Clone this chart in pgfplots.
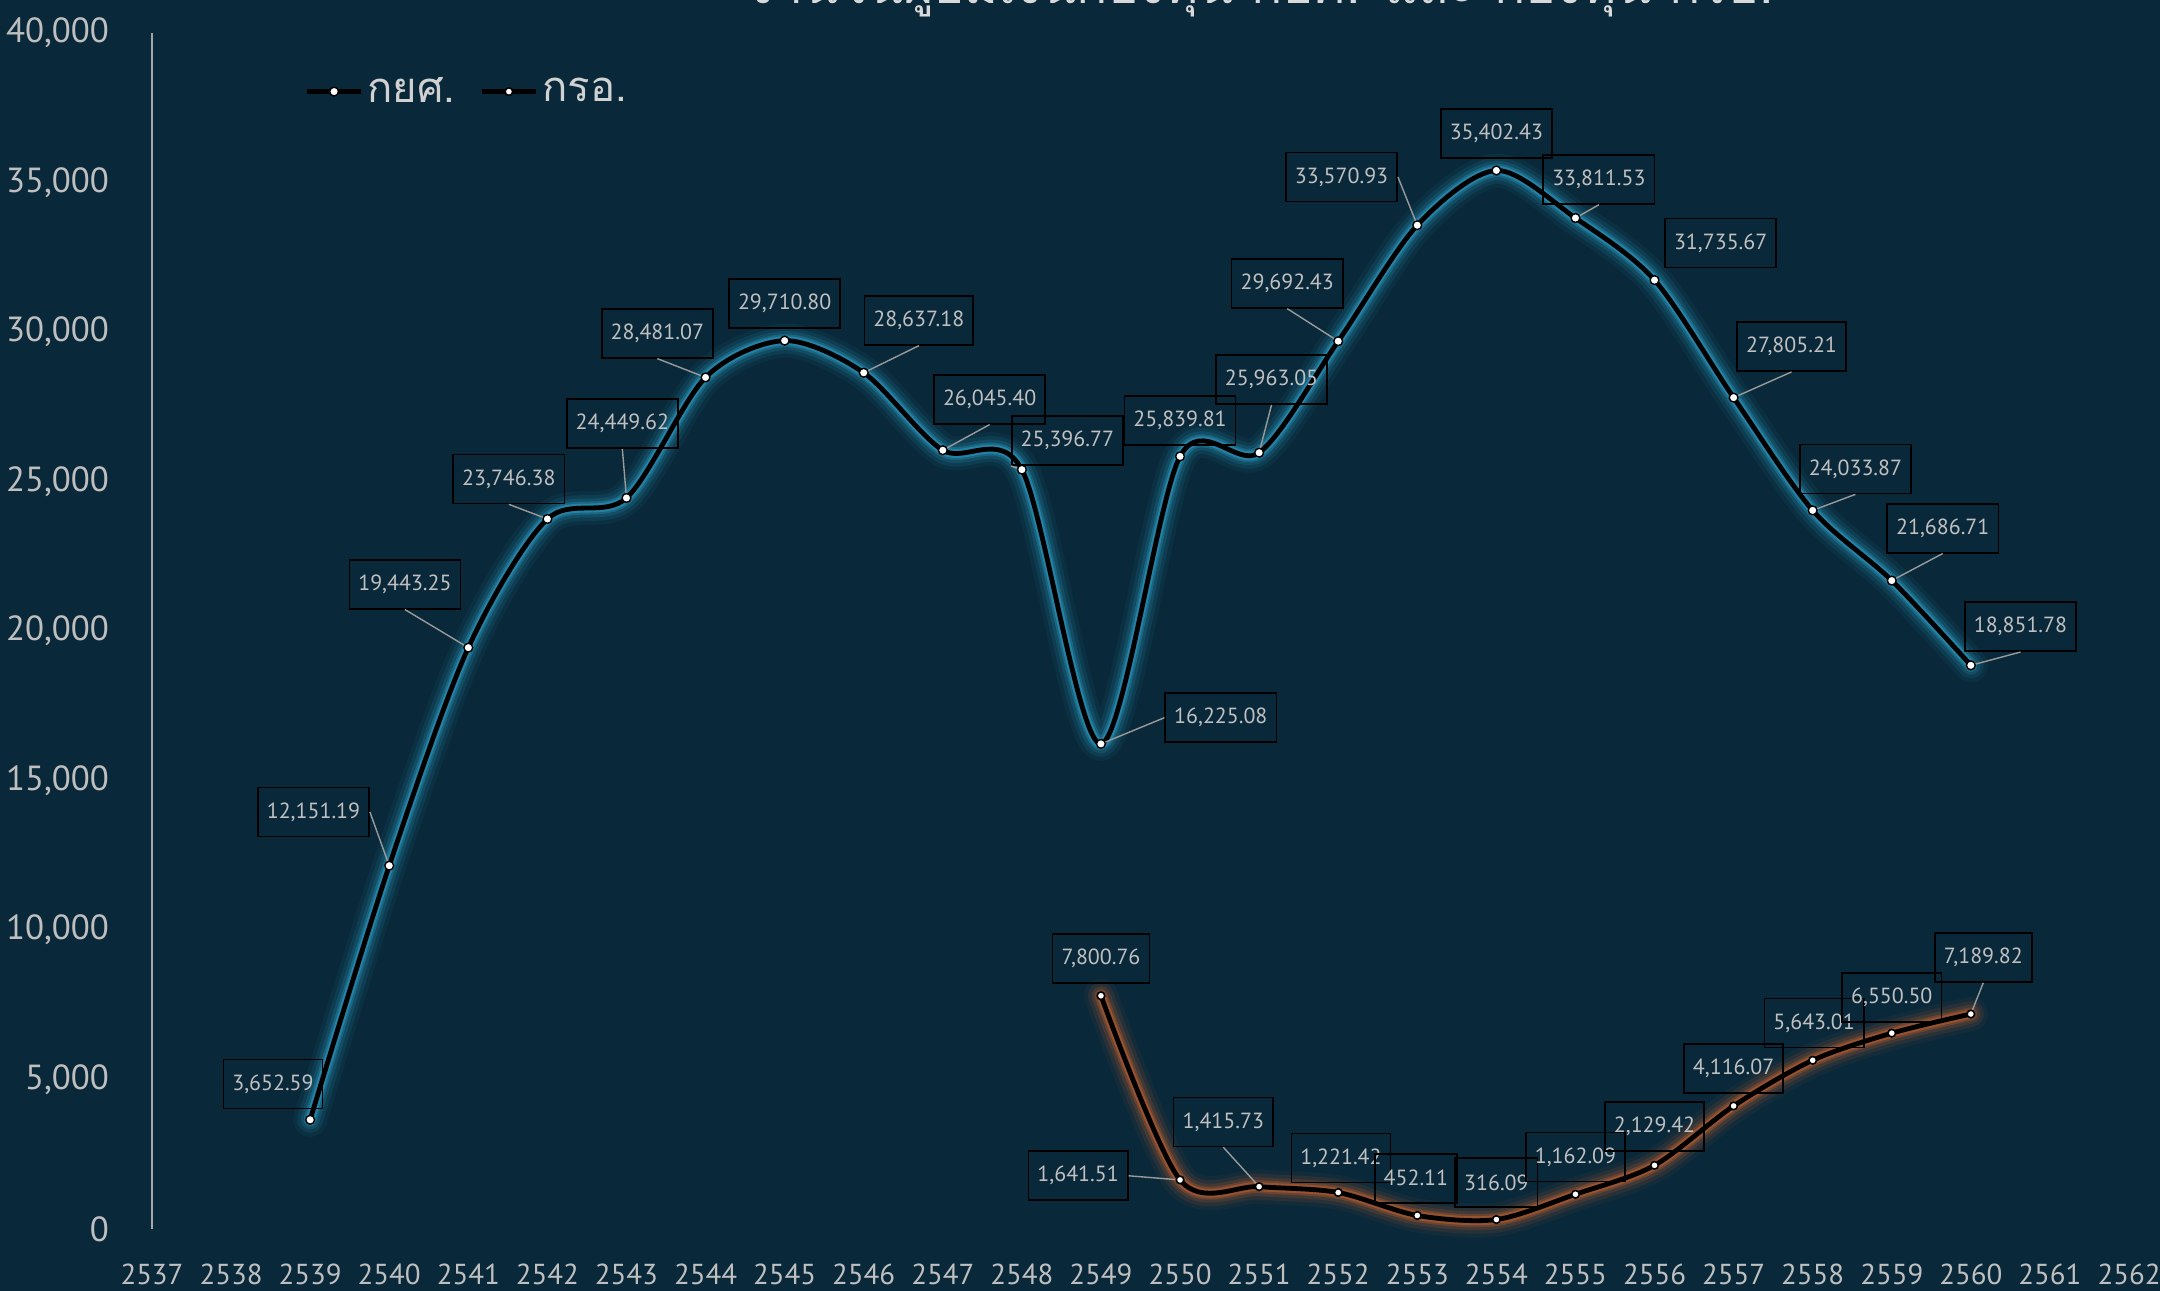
\documentclass[border=0pt]{standalone}
\usepackage{fontspec}
\setmainfont{PT Sans}
\newfontfamily\thaifont[Script=Thai]{Loma}
\usepackage{pgfplots}
\usepackage{pgfplotstable}
\pgfplotsset{compat=1.18}
\definecolor{bg}{HTML}{09293A}
\definecolor{tickc}{HTML}{BFBFBF}
\definecolor{axc}{HTML}{A6A6A6}
\definecolor{glowb}{HTML}{2FA6D0}
\definecolor{glowo}{HTML}{D0642C}
\definecolor{lbltxt}{HTML}{C0C0C0}
\definecolor{leadc}{HTML}{9A9A9A}
\definecolor{titc}{HTML}{D9D9D9}

\pgfplotstableread{
x y
2539 3652.59
2540 12151.19
2541 19443.25
2542 23746.38
2543 24449.62
2544 28481.07
2545 29710.80
2546 28637.18
2547 26045.40
2548 25396.77
2549 16225.08
2550 25839.81
2551 25963.05
2552 29692.43
2553 33570.93
2554 35402.43
2555 33811.53
2556 31735.67
2557 27805.21
2558 24033.87
2559 21686.71
2560 18851.78
}\kys

\pgfplotstableread{
x y
2549 7800.76
2550 1641.51
2551 1415.73
2552 1221.42
2553 452.11
2554 316.09
2555 1162.09
2556 2129.42
2557 4116.07
2558 5643.01
2559 6550.50
2560 7189.82
}\kro

\tikzset{
  lbl/.style={draw=black, line width=0.8bp, text=lbltxt, font=\fontsize{11}{13}\selectfont,
    inner xsep=4.5bp, inner ysep=0pt, minimum height=24.5bp},
  leader/.style={draw=leadc, line width=0.7bp}
}
\pgfplotsset{glow/.style={smooth, tension=0.5, forget plot, line cap=round, line join=round}}
% #1 x, #2 y, #3 dx (px right), #4 dy (px up), #5 text, #6 leader anchor
\newcommand\lab[6]{%
  \node[lbl, xshift=#3*0.6888bp, yshift=#4*0.6888bp] (L) at (axis cs:#1,#2) {#5};
  \ifx\relax#6\relax\else\draw[leader] (axis cs:#1,#2) -- (L.#6);\fi
}

\begin{document}
\begin{tikzpicture}
\useasboundingbox (0,0) rectangle (1080bp,645.5bp);
\fill[bg] (0,0) rectangle (1080bp,645.5bp);
\node[anchor=base, text=titc, font=\thaifont\fontsize{26}{30}\selectfont, inner sep=0pt]
  at (629.5bp,643.5bp) {จำนวนผู้ยืมเงินกองทุน กยศ. และ กองทุน กรอ.};
\begin{axis}[
  at={(76bp,31bp)}, anchor=south west,
  scale only axis, width=988.5bp, height=598bp,
  xmin=2537, xmax=2562, ymin=0, ymax=40000,
  xtick={2537,2538,...,2562},
  ytick={0,5000,...,40000},
  scaled y ticks=false,
  axis lines*=left,
  x axis line style={draw=none},
  y axis line style={draw=axc, line width=1bp},
  major tick length=0pt,
  clip=false,
  /pgf/number format/assume math mode=true,
  yticklabel style={text=tickc, font=\fontsize{17.5}{20}\selectfont, xshift=-18bp,
    /pgf/number format/fixed, /pgf/number format/1000 sep={,}},
  xticklabel style={text=tickc, font=\fontsize{14.5}{17}\selectfont, yshift=-14bp,
    /pgf/number format/1000 sep={}},
  legend style={at={(0.074,0.951)}, anchor=west, draw=none, fill=none,
    text=white!82!black, font=\thaifont\fontsize{21}{24}\selectfont,
    legend columns=2, /tikz/every even column/.append style={column sep=10bp}},
  legend image code/.code={\draw[mark repeat=2,mark phase=2,#1] plot coordinates {(0bp,0bp) (13.5bp,0bp) (27bp,0bp)};},
]
% glow for series 1
\addplot[glowb, opacity=0.06, line width=17bp, glow] table {\kys};
\addplot[glowb, opacity=0.10, line width=13bp, glow] table {\kys};
\addplot[glowb, opacity=0.16, line width=9.5bp, glow] table {\kys};
\addplot[glowb, opacity=0.28, line width=6.5bp, glow] table {\kys};
\addplot[glowb, opacity=0.45, line width=4.5bp, glow] table {\kys};
% glow for series 2
\addplot[glowo, opacity=0.06, line width=17bp, glow] table {\kro};
\addplot[glowo, opacity=0.10, line width=13bp, glow] table {\kro};
\addplot[glowo, opacity=0.16, line width=9.5bp, glow] table {\kro};
\addplot[glowo, opacity=0.28, line width=6.5bp, glow] table {\kro};
\addplot[glowo, opacity=0.45, line width=4.5bp, glow] table {\kro};
% main lines
\addplot[black, line width=2.4bp, smooth, tension=0.5, mark=*, mark size=2.2bp,
  mark options={fill=white, draw=black, line width=0.7bp}] table {\kys};
\addlegendentry{กยศ.}
\addplot[black, line width=2.4bp, smooth, tension=0.5, mark=*, mark size=1.9bp,
  mark options={fill=white, draw=black, line width=0.8bp}] table {\kro};
\addlegendentry{กรอ.}

% labels series 1
\lab{2539}{3652.59}{-27}{26}{3,652.59}{}
\lab{2540}{12151.19}{-55}{39}{12,151.19}{east}
\lab{2541}{19443.25}{-46}{46}{19,443.25}{south}
\lab{2542}{23746.38}{-28}{29}{23,746.38}{south}
\lab{2543}{24449.62}{-3}{54}{24,449.62}{south}
\lab{2544}{28481.07}{-35}{32}{28,481.07}{south}
\lab{2545}{29710.80}{0}{27}{29,710.80}{}
\lab{2546}{28637.18}{40}{38}{28,637.18}{south}
\lab{2547}{26045.40}{34}{37}{26,045.40}{south}
\lab{2548}{25396.77}{33}{21}{25,396.77}{south west}
\lab{2549}{16225.08}{87}{19}{16,225.08}{west}
\lab{2550}{25839.81}{0}{26}{25,839.81}{}
\lab{2551}{25963.05}{9}{53}{25,963.05}{south}
\lab{2552}{29692.43}{-37}{42}{29,692.43}{south}
\lab{2553}{33570.93}{-55}{35}{33,570.93}{east}
\lab{2554}{35402.43}{0}{27}{35,402.43}{}
\lab{2555}{33811.53}{17}{28}{33,811.53}{south}
\lab{2556}{31735.67}{48}{27}{31,735.67}{}
\lab{2557}{27805.21}{42}{37}{27,805.21}{south}
\lab{2558}{24033.87}{31}{30}{24,033.87}{south}
\lab{2559}{21686.71}{37}{38}{21,686.71}{south}
\lab{2560}{18851.78}{36}{28}{18,851.78}{south}
% labels series 2
\lab{2549}{7800.76}{0}{27}{7,800.76}{}
\lab{2550}{1641.51}{-74}{3}{1,641.51}{east}
\lab{2551}{1415.73}{-26}{47}{1,415.73}{south}
\lab{2552}{1221.42}{2}{25}{1,221.42}{}
\lab{2553}{452.11}{-1}{27}{452.11}{}
\lab{2554}{316.09}{0}{27}{316.09}{}
\lab{2555}{1162.09}{0}{27}{1,162.09}{}
\lab{2556}{2129.42}{0}{28}{2,129.42}{}
\lab{2557}{4116.07}{0}{27}{4,116.07}{}
\lab{2558}{5643.01}{1}{27}{5,643.01}{}
\lab{2559}{6550.50}{0}{26}{6,550.50}{}
\lab{2560}{7189.82}{9}{41}{7,189.82}{south}
\end{axis}
\end{tikzpicture}
\end{document}
